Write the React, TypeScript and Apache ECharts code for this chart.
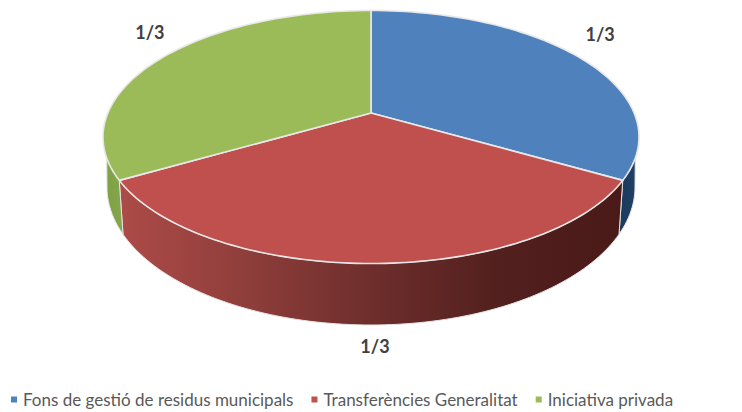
import React, { useEffect, useRef } from "react";
import * as echarts from "echarts";

const categories = ["Fons de gestió de residus municipals", "Transferències Generalitat", "Iniciativa privada"];
const values = [1, 1, 1];
const sliceLabels = ["1/3", "1/3", "1/3"];

const topColors = ["#4f81bd", "#c0504d", "#9bbb59"];
const wallStops: [number, string][][] = [
  [[0, "#1d3a5c"], [1, "#1f3f64"]],
  [[0, "#ad4b48"], [0.25, "#8f3e3b"], [0.5, "#6e2e2c"], [0.75, "#52201e"], [1, "#4a1a18"]],
  [[0, "#7fa044"], [1, "#86a64b"]],
];
const labelOffsets = [[21, -23], [4, 82], [-13, -25]];

const CX = 371;
const TOP = { cy: 137, rx: 268, ry: 126.5 };
const BOTTOM = { cy: 187, rx: 264, ry: 138 };
const APEX_SHIFT = 24 / 126.5;
const DEG = Math.PI / 180;

// Perspective: a data angle (clockwise from 12 o'clock) to the parameter on the ellipse
function toPhi(theta: number): number {
  const y = Math.cos(theta);
  const yp = (y + APEX_SHIFT) / (1 + APEX_SHIFT * y);
  const phi = Math.acos(Math.max(-1, Math.min(1, yp)));
  return theta > Math.PI ? 2 * Math.PI - phi : phi;
}
function pt(e: { cy: number; rx: number; ry: number }, phi: number): number[] {
  return [CX + e.rx * Math.sin(phi), e.cy - e.ry * Math.cos(phi)];
}
function arc(e: { cy: number; rx: number; ry: number }, a: number, b: number): number[][] {
  const out: number[][] = [];
  const n = Math.max(1, Math.ceil(Math.abs(b - a) / (1.5 * DEG)));
  for (let i = 0; i <= n; i++) out.push(pt(e, a + ((b - a) * i) / n));
  return out;
}
const total = values.reduce((s, v) => s + v, 0);

function makeSeries(i: number) {
  const start = values.slice(0, i).reduce((s, v) => s + v, 0);
  return {
    type: "custom",
    name: categories[i],
    coordinateSystem: "none",
    itemStyle: { color: topColors[i] },
    silent: true,
    clip: false,
    data: [[values[i], start]],
    renderItem: (_p: any, api: any) => {
      const v = api.value(0);
      const s = api.value(1);
      const t1 = (s / total) * 2 * Math.PI;
      const t2 = ((s + v) / total) * 2 * Math.PI;
      const p1 = toPhi(t1);
      const p2 = toPhi(t2);
      const children: any[] = [];
      const topA = Math.max(p1, 99.6 * DEG);
      const topB = Math.min(p2, 260.4 * DEG);
      const botA = Math.max(p1, 90 * DEG);
      const botB = Math.min(p2, 270 * DEG);
      if (topB > topA) {
        children.push({
          type: "polygon",
          shape: { points: [...arc(TOP, topA, topB), ...arc(BOTTOM, botB, botA)] },
          style: {
            fill: new echarts.graphic.LinearGradient(
              0, 0, 1, 0,
              wallStops[i].map(([offset, color]) => ({ offset, color }))
            ),
            stroke: "#e4e4e4",
            lineWidth: 1,
          },
        });
      }
      children.push({
        type: "polygon",
        shape: { points: [[CX, TOP.cy - APEX_SHIFT * TOP.ry], ...arc(TOP, p1, p2)] },
        style: { fill: topColors[i], stroke: "#e8e8e8", lineWidth: 1.6, lineJoin: "round" },
      });
      const mid = pt(TOP, toPhi((t1 + t2) / 2));
      children.push({
        type: "text",
        x: mid[0] + labelOffsets[i][0],
        y: mid[1] + labelOffsets[i][1],
        style: {
          text: sliceLabels[i],
          fill: "#404040",
          font: "bold 18px Lato",
          align: "center",
          verticalAlign: "middle",
        },
      });
      return { type: "group", children };
    },
  };
}

export default function App() {
  const ref = useRef<HTMLDivElement>(null);
  useEffect(() => {
    const chart = echarts.init(ref.current!, null, { renderer: "svg" });
    chart.setOption({
      animation: false,
      backgroundColor: "#ffffff",
      legend: {
        data: categories,
        left: 11,
        top: 391,
        padding: 0,
        icon: "rect",
        itemWidth: 6,
        itemHeight: 6,
        itemGap: 18,
        textStyle: { fontFamily: "Lato", fontSize: 17, color: "#595959", padding: [0, 0, 0, 1] },
      },
      series: categories.map((_, i) => makeSeries(i)),
    });
    return () => chart.dispose();
  }, []);
  return <div ref={ref} style={{ position: "absolute", left: 0, top: 0, width: 742, height: 412 }} />;
}
